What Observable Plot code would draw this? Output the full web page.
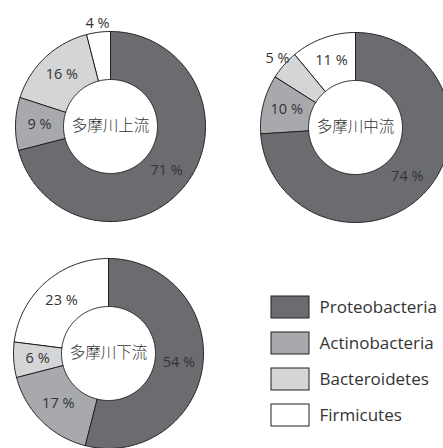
<!DOCTYPE html>
<html>
<head>
<meta charset="utf-8">
<script src="https://cdn.jsdelivr.net/npm/d3@7"></script>
<script src="https://cdn.jsdelivr.net/npm/@observablehq/plot@0.6"></script>
<style>
  html, body { margin: 0; padding: 0; background: #fff; overflow: hidden; }
  #chart { width: 443px; height: 448px; }
</style>
</head>
<body>
<div id="chart"></div>
<script>
// ---- data ----
const categories = ["Proteobacteria", "Actinobacteria", "Bacteroidetes", "Firmicutes"];
const sites = ["多摩川上流", "多摩川中流", "多摩川下流"];
const upstream = [71, 9, 16, 4];
const midstream = [74, 10, 5, 11];
const downstream = [54, 17, 6, 23];
const colors = ["#6b6c6f", "#a8a9ac", "#d4d5d7", "#ffffff"];

// ---- layout ----
const W = 443, H = 448;
const centers = [[110, 126], [355, 127], [108, 353]];
const R = 95, r0 = 47;
const series = [upstream, midstream, downstream];

const ringRows = [];
const labelRows = [];
const centerRows = [];
series.forEach((vals, si) => {
  const [cx, cy] = centers[si];
  const total = d3.sum(vals);
  let acc = 0;
  centerRows.push({x: cx, y: cy, text: sites[si]});
  vals.forEach((v, ci) => {
    const a0 = acc / total * 2 * Math.PI;
    const a1 = (acc + v) / total * 2 * Math.PI;
    acc += v;
    const key = sites[si] + "|" + categories[ci];
    const n = Math.max(2, Math.ceil((a1 - a0) / (Math.PI / 180)));
    for (let k = 0; k <= n; k++) {
      const a = a0 + (a1 - a0) * k / n;
      ringRows.push({key, category: categories[ci], x: cx + R * Math.sin(a), y: cy - R * Math.cos(a)});
    }
    for (let k = n; k >= 0; k--) {
      const a = a0 + (a1 - a0) * k / n;
      ringRows.push({key, category: categories[ci], x: cx + r0 * Math.sin(a), y: cy - r0 * Math.cos(a)});
    }
    const am = (a0 + a1) / 2;
    const lr = v <= 5 ? 104 : 71;
    labelRows.push({x: cx + lr * Math.sin(am), y: cy - lr * Math.cos(am), text: v + " %"});
  });
});

const legendRows = categories.map((c, i) => ({category: c, i}));

const plot = Plot.plot({
  width: W,
  height: H,
  margin: 0,
  x: {type: "identity", axis: null},
  y: {type: "identity", axis: null},
  color: {type: "ordinal", domain: categories, range: colors},
  style: {fontFamily: "'Open Sans', 'Noto Sans', sans-serif", background: "white", overflow: "hidden"},
  marks: [
    Plot.line(ringRows, {
      x: "x", y: "y", z: "key", fill: "category",
      stroke: "#231f20", strokeWidth: 1, curve: "linear-closed"
    }),
    Plot.text(labelRows, {
      x: "x", y: "y", text: "text", fill: "#333333", fontSize: 14.5, letterSpacing: "-0.4px"
    }),
    Plot.text(centerRows, {
      x: "x", y: "y", text: "text", fill: "#333333", fontSize: 15.5, fontWeight: 300,
      fontFamily: "'Noto Sans CJK JP', sans-serif"
    }),
    Plot.rect(legendRows, {
      x1: () => 271, x2: () => 309,
      y1: d => 296 + 36 * d.i, y2: d => 318 + 36 * d.i,
      fill: "category", stroke: "#231f20", strokeWidth: 1
    }),
    Plot.text(legendRows, {
      x: () => 319, y: d => 307 + 36 * d.i, text: "category",
      textAnchor: "start", fill: "#333333", fontSize: 17, letterSpacing: "-0.3px"
    })
  ]
});
document.getElementById("chart").appendChild(plot);
</script>
</body>
</html>
